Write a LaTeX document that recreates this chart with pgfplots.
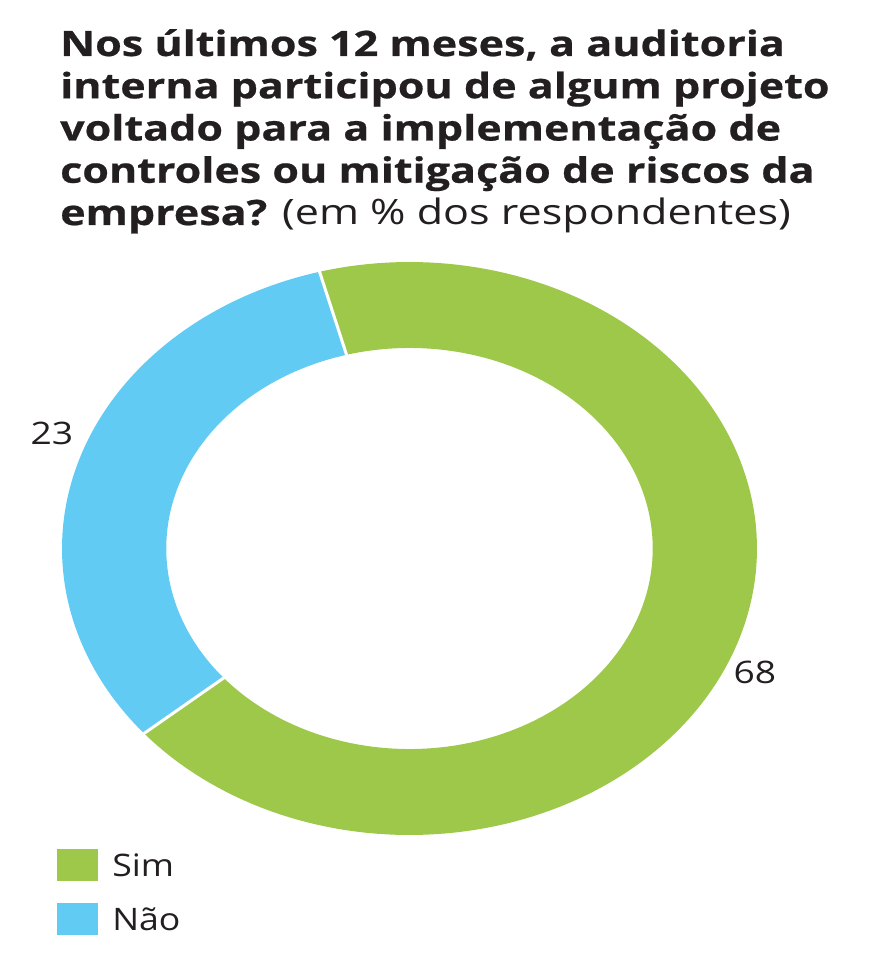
\documentclass[border=0pt]{standalone}
\usepackage{fontspec}
\setmainfont{Open Sans}[FakeStretch=1.15]
\newfontfamily\titlefont{Open Sans}[FakeStretch=1.23, BoldFeatures={FakeBold=0.6}]
\newfontfamily\labelfont{Open Sans}[FakeStretch=1.2]
\usepackage{pgfplots}
\pgfplotsset{compat=1.18}
\usepackage{pgfplotstable}
\usepgfplotslibrary{fillbetween}
\definecolor{simgreen}{RGB}{157,200,74}
\definecolor{naoblue}{RGB}{98,203,244}
\definecolor{txt}{RGB}{35,31,32}

% share of the ring drawn for each slice (as in the picture) and the printed label
\pgfplotstableread{
label value shown
Sim   68    68
Nao   32    23
}\piedata

\begin{document}%
\begin{tikzpicture}[x=1pt,y=1pt]
\pgfplotstablegetelem{0}{value}\of\piedata \let\vsim\pgfplotsretval
\pgfplotstablegetelem{1}{value}\of\piedata \let\vnao\pgfplotsretval
\pgfplotstablegetelem{0}{shown}\of\piedata \let\lsim\pgfplotsretval
\pgfplotstablegetelem{1}{shown}\of\piedata \let\lnao\pgfplotsretval
\pgfmathsetmacro\angA{105}
\pgfmathsetmacro\angB{\angA-3.6*\vsim}
\pgfmathsetmacro\angC{\angA+3.6*\vnao}
\begin{axis}[
  at={(0,0)}, anchor=center,
  scale only axis, width=764.5pt, height=630.3pt,
  xmin=-1.1, xmax=1.1, ymin=-1.1, ymax=1.1,
  hide axis, clip=false,
  legend style={at={(axis description cs:0.039,0.023)}, anchor=north west,
    draw=none, fill=none, inner sep=0pt, column sep=14pt,
    font=\fontsize{31}{37}\selectfont\color{txt},
    nodes={inner sep=0pt, text height=25pt, text depth=26pt}},
  legend cell align=left,
  legend image code/.code={\fill[#1] (0pt,-4pt) rectangle (41pt,28pt);},
]
% Sim
\addplot[name path=gout, draw=none, forget plot, domain=\angB:\angA, samples=150] ({cos(x)},{sin(x)});
\addplot[name path=gin, draw=none, forget plot, domain=\angB:\angA, samples=150] ({0.70*cos(x)},{0.70*sin(x)});
\addplot[fill=simgreen, draw=none, forget plot] fill between[of=gout and gin];
% Nao
\addplot[name path=bout, draw=none, forget plot, domain=\angA:\angC, samples=100] ({cos(x)},{sin(x)});
\addplot[name path=bin, draw=none, forget plot, domain=\angA:\angC, samples=100] ({0.70*cos(x)},{0.70*sin(x)});
\addplot[fill=naoblue, draw=none, forget plot] fill between[of=bout and bin];
% separators
\addplot[white, line width=3pt, forget plot, domain=0.69:1.01, samples=2] ({x*cos(\angA)},{x*sin(\angA)});
\addplot[white, line width=3pt, forget plot, domain=0.69:1.01, samples=2] ({x*cos(\angC)},{x*sin(\angC)});
\node[font=\labelfont\fontsize{31}{36}\selectfont, text=txt] at (axis cs:-1.029,0.400) {\lnao};
\node[font=\labelfont\fontsize{31}{36}\selectfont, text=txt] at (axis cs:0.994,-0.431) {\lsim};
\addlegendimage{fill=simgreen, draw=none}
\addlegendentry{Sim}
\addlegendimage{fill=naoblue, draw=none}
\addlegendentry{Não}
\end{axis}
\begin{scope}[every node/.style={anchor=base west, inner sep=0pt, text=txt, font=\titlefont\fontsize{35}{42}\selectfont}]
\node at (-349.5,492.5) {\bfseries Nos últimos 12 meses, a auditoria};
\node at (-349.5,450.25) {\bfseries interna participou de algum projeto};
\node at (-349.5,408) {\bfseries voltado para a implementação de};
\node at (-349.5,365.75) {\bfseries controles ou mitigação de riscos da};
\node at (-349.5,323.5) {\textbf{empresa?} (em \% dos respondentes)};
\end{scope}
\pgfresetboundingbox
\path (-409.5,-428.5) rectangle (459.5,548.5);
\end{tikzpicture}%
\end{document}
